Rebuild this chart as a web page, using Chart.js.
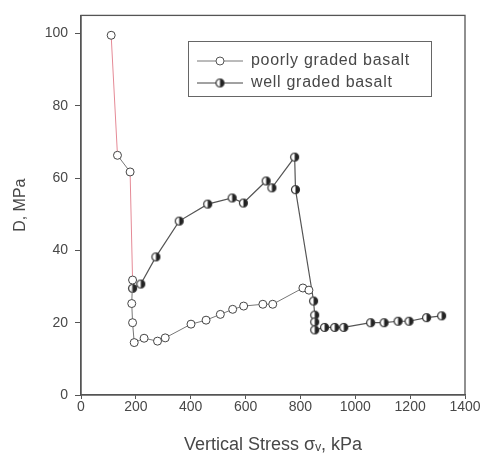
<!DOCTYPE html>
<html>
<head>
<meta charset="utf-8">
<script src="https://cdn.jsdelivr.net/npm/chart.js@4"></script>
<style>
  html, body { margin: 0; padding: 0; background: #fff; }
  #wrap { width: 481px; height: 456px; }
</style>
</head>
<body>
<div id="wrap"><canvas id="stressCanvas"></canvas></div>
<script>
// poorly graded basalt (open circles)
const poorlyStress = [110, 133, 179, 188, 185, 188, 194, 230, 279, 307, 401, 456, 508, 553, 593, 663, 699, 809, 831];
const poorlyD = [99.5, 66.3, 61.7, 31.8, 25.3, 20.0, 14.5, 15.7, 14.9, 15.8, 19.6, 20.7, 22.3, 23.7, 24.6, 25.1, 25.1, 29.6, 29.0];

// well graded basalt (half filled circles)
const wellStress = [188, 218, 273, 358, 462, 551, 592, 675, 696, 779, 782, 848, 852, 852, 852, 888, 925, 958, 1056, 1105, 1156, 1196, 1260, 1315];
const wellD = [29.5, 30.7, 38.2, 48.1, 52.8, 54.5, 53.1, 59.2, 57.3, 65.8, 56.8, 26.0, 22.1, 20.2, 18.0, 18.7, 18.7, 18.7, 20.0, 20.0, 20.4, 20.4, 21.4, 21.9];

const xTicks = [0, 200, 400, 600, 800, 1000, 1200, 1400];
const yTicks = [0, 20, 40, 60, 80, 100];

const legendLabels = ['poorly graded basalt', 'well graded basalt'];

const toPoints = (xs, ys) => xs.map((x, i) => ({ x: x, y: ys[i] }));

const textColor = '#484848';
const axisColor = '#555';
const redLine = '#e58a96';
const fontFam = '"Liberation Sans", Arial, sans-serif';

// half filled marker
function halfDot(r) {
  const c = document.createElement('canvas');
  const s = Math.ceil(r * 2 + 3);
  c.width = s; c.height = s;
  const g = c.getContext('2d');
  const m = s / 2;
  g.beginPath(); g.arc(m, m, r, 0, Math.PI * 2); g.fillStyle = '#fff'; g.fill();
  g.beginPath(); g.moveTo(m, m - r); g.arc(m, m, r, -Math.PI / 2, Math.PI / 2); g.closePath();
  g.fillStyle = '#222'; g.fill();
  g.beginPath(); g.arc(m, m, r, 0, Math.PI * 2); g.strokeStyle = '#333'; g.lineWidth = 1.2; g.stroke();
  return c;
}
const wellMarker = halfDot(4);

// frame + boxed legend
const framePlugin = {
  id: 'frame',
  afterDraw(chart) {
    const { ctx, chartArea: a } = chart;
    ctx.save();
    ctx.strokeStyle = axisColor;
    ctx.lineWidth = 1.3;
    ctx.strokeRect(a.left, a.top, a.right - a.left, a.bottom - a.top);

    // legend box
    ctx.lineWidth = 1;
    ctx.strokeStyle = '#666';
    ctx.strokeRect(188.5, 41.5, 243, 55);
    const rows = [61, 83];
    ctx.font = '16px ' + fontFam;
    ctx.letterSpacing = '0.7px';
    ctx.fillStyle = textColor;
    ctx.textBaseline = 'middle';
    rows.forEach((y, i) => {
      ctx.beginPath();
      ctx.moveTo(197, y); ctx.lineTo(243, y);
      ctx.strokeStyle = i === 0 ? '#777' : '#444';
      ctx.lineWidth = 1;
      ctx.stroke();
      if (i === 0) {
        ctx.beginPath(); ctx.arc(220, y, 4, 0, Math.PI * 2);
        ctx.fillStyle = '#fff'; ctx.fill();
        ctx.strokeStyle = '#555'; ctx.stroke();
      } else {
        ctx.drawImage(wellMarker, 220 - wellMarker.width / 2, y - wellMarker.height / 2);
      }
      ctx.fillStyle = textColor;
      ctx.fillText(legendLabels[i], 251, y);
    });
    ctx.restore();
  }
};

const ctxStress = document.getElementById('stressCanvas').getContext('2d');

new Chart(ctxStress, {
  type: 'scatter',
  data: {
    datasets: [
      {
        label: legendLabels[0],
        data: toPoints(poorlyStress, poorlyD),
        showLine: true,
        borderColor: '#777',
        borderWidth: 1,
        segment: {
          borderColor: c => (c.p0DataIndex === 0 || c.p0DataIndex === 2) ? redLine : '#777'
        },
        pointStyle: 'circle',
        pointRadius: 4,
        pointBackgroundColor: '#fff',
        pointBorderColor: '#444',
        pointBorderWidth: 1
      },
      {
        label: legendLabels[1],
        data: toPoints(wellStress, wellD),
        showLine: true,
        borderColor: '#555',
        borderWidth: 1.2,
        pointStyle: wellMarker,
        pointRadius: 4
      }
    ]
  },
  options: {
    responsive: true,
    maintainAspectRatio: false,
    animation: false,
    layout: { padding: { left: 0, right: 16, top: 12, bottom: 0 } },
    plugins: {
      legend: { display: false },
      tooltip: { enabled: false }
    },
    scales: {
      x: {
        type: 'linear',
        min: 0,
        max: 1400,
        afterFit: s => { s.height = 61; },
        afterBuildTicks: s => { s.ticks = xTicks.map(v => ({ value: v })); },
        grid: { drawOnChartArea: false, color: axisColor, tickLength: 4 },
        border: { color: axisColor, width: 1.3 },
        ticks: {
          color: textColor,
          padding: 0,
          maxRotation: 0,
          callback: v => String(v),
          font: { family: fontFam, size: 14 }
        },
        title: {
          display: true,
          text: 'Vertical Stress σᵥ, kPa',
          color: textColor,
          padding: { top: 0, bottom: 0 },
          font: { family: fontFam, size: 18 }
        }
      },
      y: {
        type: 'linear',
        min: 0,
        max: 105,
        afterFit: s => { s.width = 81; },
        afterBuildTicks: s => { s.ticks = yTicks.map(v => ({ value: v })); },
        grid: { drawOnChartArea: false, color: axisColor, tickLength: 6 },
        border: { color: axisColor, width: 1.3 },
        ticks: {
          color: textColor,
          padding: 7,
          callback: v => String(v),
          font: { family: fontFam, size: 14 }
        },
        title: {
          display: true,
          text: 'D, MPa',
          color: textColor,
          padding: { top: 11, bottom: 0 },
          font: { family: fontFam, size: 16 }
        }
      }
    }
  },
  plugins: [framePlugin]
});
</script>
</body>
</html>
